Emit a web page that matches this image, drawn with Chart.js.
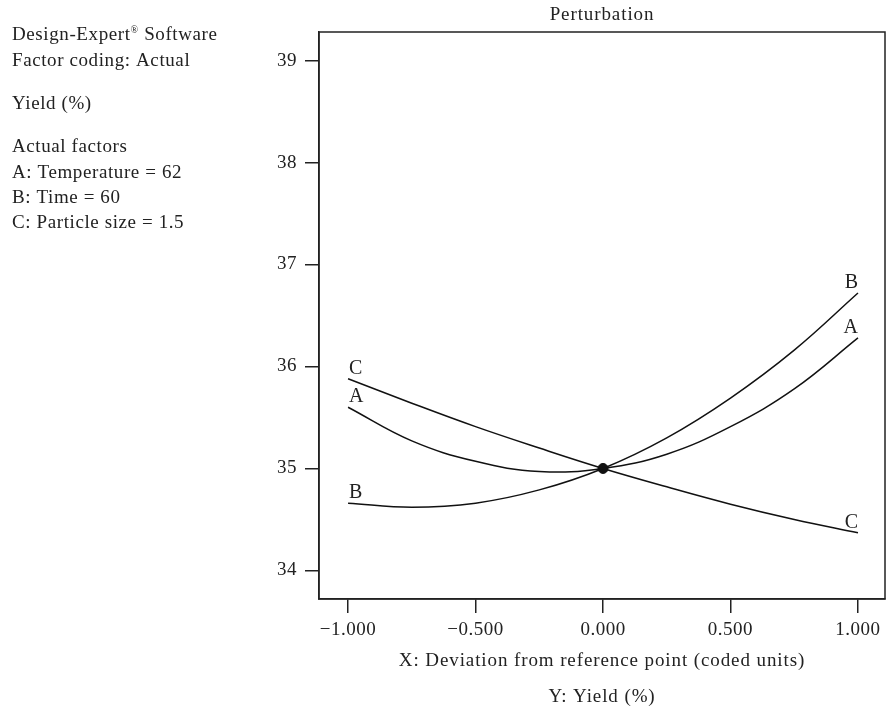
<!DOCTYPE html>
<html>
<head>
<meta charset="utf-8">
<script src="https://cdn.jsdelivr.net/npm/chart.js@4"></script>
<style>
html, body { margin: 0; padding: 0; background: #fff; overflow: hidden; }
canvas { display: block; }
</style>
</head>
<body>
<canvas id="chart" width="886" height="711"></canvas>
<script>
// values
const xs = [-1, -0.75, -0.5, -0.25, 0, 0.25, 0.5, 0.75, 1];
const yieldA = [35.60, 35.27, 35.07, 34.97, 35.00, 35.14, 35.41, 35.78, 36.28];
const yieldB = [34.66, 34.62, 34.66, 34.79, 35.00, 35.30, 35.69, 36.16, 36.72];
const yieldC = [35.88, 35.64, 35.41, 35.20, 35.00, 34.82, 34.65, 34.50, 34.37];
const refPoint = [{ x: 0, y: 35 }];
const factorNames = ['A', 'B', 'C'];
const xTicks = [-1, -0.5, 0, 0.5, 1];
const xTickLabels = ['\u22121.000', '\u22120.500', '0.000', '0.500', '1.000'];
const yTicks = [34, 35, 36, 37, 38, 39];
const infoLines = [
  ['Design-Expert', 'Software', 35],
  ['Factor coding: Actual', null, 61],
  ['Yield (%)', null, 104],
  ['Actual factors', null, 147],
  ['A: Temperature = 62', null, 173],
  ['B: Time = 60', null, 198],
  ['C: Particle size = 1.5', null, 223]
];

const FONT = "'Liberation Serif', 'Times New Roman', serif";
const INK = '#222';

function pts(ys) {
  return xs.map((x, i) => ({ x: x, y: ys[i] }));
}

const curveStyle = {
  borderColor: '#111',
  borderWidth: 1.5,
  pointRadius: 0,
  showLine: true,
  tension: 0.4,
  fill: false
};

// wider letter spacing so the Times-like face spreads like the original
const spacing = {
  id: 'spacing',
  beforeDraw(chart) { chart.ctx.letterSpacing = '0.5px'; }
};

const extras = {
  id: 'extras',
  afterDraw(chart) {
    const ctx = chart.ctx;
    const a = chart.chartArea;
    const xScale = chart.scales.x;
    ctx.save();
    ctx.letterSpacing = '0px';
    // frame
    ctx.strokeStyle = INK;
    ctx.lineWidth = 1.5;
    ctx.strokeRect(a.left, a.top, a.right - a.left, a.bottom - a.top);

    ctx.fillStyle = INK;
    ctx.textBaseline = 'middle';
    ctx.textAlign = 'center';

    // x tick labels
    ctx.font = '19px ' + FONT;
    ctx.letterSpacing = '0.5px';
    xTicks.forEach((v, i) => {
      ctx.fillText(xTickLabels[i], xScale.getPixelForValue(v), 630);
    });

    ctx.letterSpacing = '0.9px';
    const cx = (a.left + a.right) / 2;
    ctx.fillText('Perturbation', cx, 15);
    ctx.fillText('X: Deviation from reference point (coded units)', cx, 661);
    ctx.fillText('Y: Yield (%)', cx, 697);

    // info block
    ctx.textAlign = 'left';
    ctx.letterSpacing = '0.6px';
    infoLines.forEach(l => {
      ctx.font = '19px ' + FONT;
      ctx.fillText(l[0], 12, l[2]);
      if (l[1]) {
        let w = ctx.measureText(l[0]).width;
        ctx.font = '10px ' + FONT;
        ctx.fillText('\u00AE', 12 + w, l[2] - 5);
        w += ctx.measureText('\u00AE').width;
        ctx.font = '19px ' + FONT;
        ctx.fillText(' ' + l[1], 12 + w, l[2]);
      }
    });

    // curve letters at both ends
    ctx.font = '20px ' + FONT;
    ctx.letterSpacing = '0px';
    ctx.textBaseline = 'alphabetic';
    factorNames.forEach((name, i) => {
      const meta = chart.getDatasetMeta(i);
      const first = meta.data[0];
      const last = meta.data[meta.data.length - 1];
      ctx.textAlign = 'left';
      ctx.fillText(name, first.x + 1, first.y - 5);
      ctx.textAlign = 'right';
      ctx.fillText(name, last.x, last.y - 5);
    });
    ctx.restore();
  }
};

new Chart(document.getElementById('chart'), {
  type: 'scatter',
  data: {
    datasets: [
      Object.assign({ label: 'A', data: pts(yieldA) }, curveStyle),
      Object.assign({ label: 'B', data: pts(yieldB) }, curveStyle),
      Object.assign({ label: 'C', data: pts(yieldC) }, curveStyle),
      {
        label: 'ref',
        data: refPoint,
        pointRadius: 5,
        pointBackgroundColor: '#111',
        pointBorderColor: '#111',
        showLine: false
      }
    ]
  },
  options: {
    responsive: false,
    animation: false,
    layout: { autoPadding: false, padding: { top: 32, right: 1, left: 0, bottom: 0 } },
    plugins: {
      legend: { display: false },
      tooltip: { enabled: false }
    },
    scales: {
      x: {
        type: 'linear',
        min: -1.114,
        max: 1.106,
        afterBuildTicks: s => { s.ticks = xTicks.map(v => ({ value: v })); },
        afterFit: s => { s.height = 112; },
        grid: { drawOnChartArea: false, drawTicks: true, tickLength: 14, color: INK, lineWidth: 1.5 },
        border: { display: true, color: INK, width: 1.5 },
        ticks: { display: false }
      },
      y: {
        type: 'linear',
        min: 33.72,
        max: 39.28,
        afterBuildTicks: s => { s.ticks = yTicks.map(v => ({ value: v })); },
        afterFit: s => { s.width = 319; },
        grid: { drawOnChartArea: false, drawTicks: true, tickLength: 14, color: INK, lineWidth: 1.5 },
        border: { display: true, color: INK, width: 1.5 },
        ticks: {
          color: INK,
          padding: 8,
          font: { family: FONT, size: 19 },
          callback: (v) => String(v)
        }
      }
    }
  },
  plugins: [spacing, extras]
});
</script>
</body>
</html>
